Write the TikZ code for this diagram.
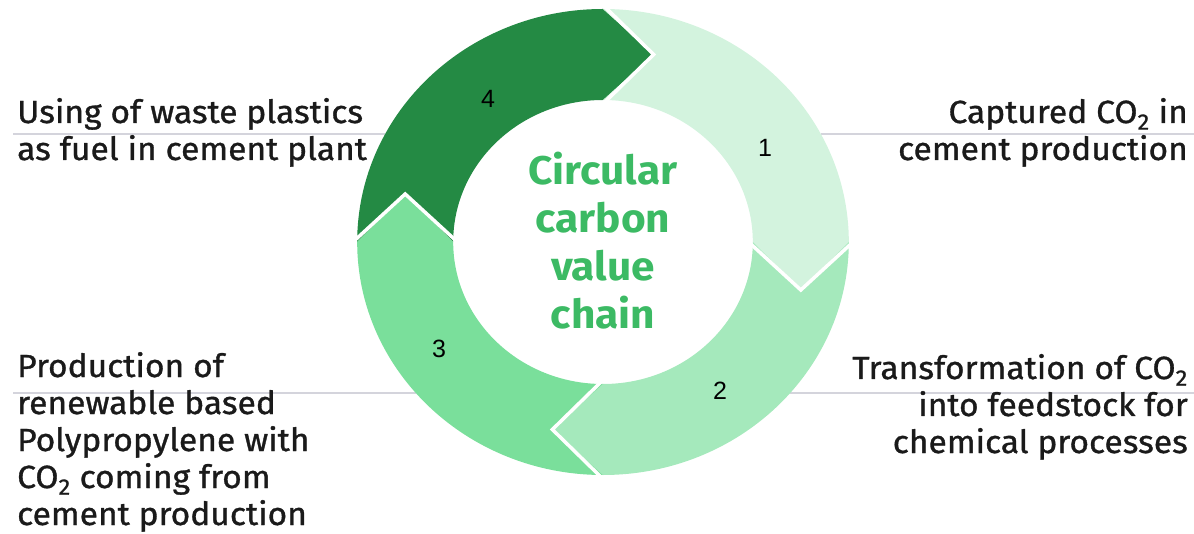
\documentclass[tikz,border=0pt]{standalone}
\usepackage{fontspec}
\setmainfont{Fira Sans}[FakeStretch=1.06]
\newfontfamily\capfont{Fira Sans}[FakeStretch=1.05, FakeBold=1]
\newfontfamily\numfont{Liberation Sans}
\usetikzlibrary{calc}
\definecolor{segA}{HTML}{D3F3DE}
\definecolor{segB}{HTML}{A5E9BC}
\definecolor{segC}{HTML}{7ADF9B}
\definecolor{segD}{HTML}{248A44}
\definecolor{hubgreen}{HTML}{3CBA64}
\definecolor{ink}{HTML}{1A1A1A}
\definecolor{rule}{HTML}{D4D4DC}
\begin{document}
\begin{tikzpicture}[x=1pt, y=1pt,
  sidetext/.style={inner sep=0pt, text=ink, font=\capfont\fontsize{32}{37}\selectfont},
  hub/.style={inner sep=0pt, text=hubgreen, align=center, font=\bfseries\fontsize{40}{48}\selectfont},
  num/.style={inner sep=0pt, text=black, font=\numfont\fontsize{25}{25}\selectfont},
  sepline/.style={draw=rule, line width=1.4pt},
  gap/.style={draw=white, line width=3.5pt, line join=miter}]
\useasboundingbox (0,0) rectangle (1194,-534);

% ring geometry (circle space, stretched horizontally)
\def\Ro{233}\def\Ri{142}\def\Rm{187.5}\def\Tip{48}
\begin{scope}[shift={(603,-242)}, xscale=1.055]
  \coordinate (ringNW) at (-206.5,108);
  \coordinate (ringNE) at (206.5,108);
  \coordinate (ringSW) at (-177.4,-151);
  \coordinate (ringSE) at (177.4,-151);
\end{scope}

% separator rules under the first line of each caption
\coordinate (ruleNW) at (13,-134);
\coordinate (ruleNE) at (1194,-134);
\coordinate (ruleSW) at (13,-393);
\coordinate (ruleSE) at (1194,-393);
\draw[sepline] (ruleNW) -- (ringNW);
\draw[sepline] (ringNE) -- (ruleNE);
\draw[sepline] (ruleSW) -- (ringSW);
\draw[sepline] (ringSE) -- (ruleSE);

% the four arrow segments of the cycle, running clockwise
\begin{scope}[shift={(603,-242)}, xscale=1.055]
  \foreach \a/\b/\c in {180/90/segD, 90/0/segA, 0/-90/segB, -90/-180/segC}{
    \fill[\c] (\a:\Ro) arc[start angle=\a, end angle=\b, radius=\Ro]
      -- ($(\b:\Rm)+(\b-90:\Tip)$)
      -- (\b:\Ri) arc[start angle=\b, end angle=\a, radius=\Ri]
      -- ($(\a:\Rm)+(\a-90:\Tip)$) -- cycle;
  }
  \foreach \a in {90,0,-90,180}{
    \draw[gap] ($(\a:\Ro)+(\a:4)$) -- ($(\a:\Rm)+(\a-90:\Tip)$) -- ($(\a:\Ri)-(\a:4)$);
  }
\end{scope}

% step numbers
\node[num] (n1) at (765,-148) {1};
\node[num] (n2) at (720,-391) {2};
\node[num] (n3) at (439,-349) {3};
\node[num] (n4) at (488,-99) {4};

% centre title
\node[hub] (hub) at (603,-241) {Circular\\carbon\\value\\chain};

% captions (anchored on the baseline of their last line)
\node[sidetext, anchor=base west, align=left] (useCap) at (17,-160)
  {Using of waste plastics\\as fuel in cement plant};
\node[sidetext, anchor=base east, align=right] (capCap) at (1188,-160)
  {Captured CO\textsubscript{2} in\\cement production};
\node[sidetext, anchor=base west, align=left] (ppCap) at (17,-525)
  {Production of\\renewable based\\Polypropylene with\\CO\textsubscript{2} coming from\\cement production};
\node[sidetext, anchor=base east, align=right] (trCap) at (1188,-453)
  {Transformation of CO\textsubscript{2}\\into feedstock for\\chemical processes};
\end{tikzpicture}
\end{document}
